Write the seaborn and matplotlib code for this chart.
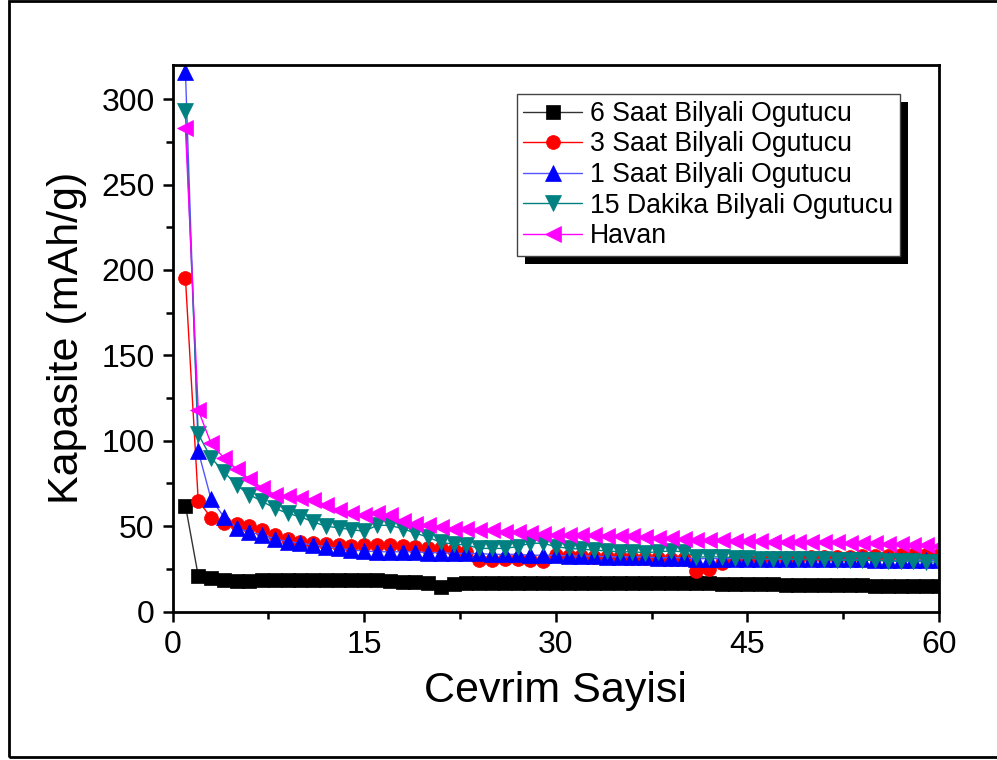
import numpy as np
import pandas as pd
import matplotlib
matplotlib.use("Agg")
import matplotlib.pyplot as plt
from matplotlib.patches import Rectangle
from matplotlib.ticker import MultipleLocator
import seaborn as sns

sns.set_theme(style="white")
plt.rcParams["font.family"] = ["Liberation Sans", "DejaVu Sans"]
plt.rcParams["text.color"] = "black"
plt.rcParams["axes.labelcolor"] = "black"
plt.rcParams["xtick.color"] = "black"
plt.rcParams["ytick.color"] = "black"

cycles = list(range(1, 61))

saat6 = [62, 21, 19.5, 18.5, 18, 18, 18.5, 18.5, 18.5, 18.5,
         18.5, 18.5, 18.5, 18.5, 18.5, 18.5, 18, 17.5, 17.5, 17,
         14.5, 16, 16.5, 16.5, 16.5, 16.5, 16.5, 16.5, 16.5, 16.5,
         17, 17, 17, 17, 17, 17, 17, 17, 17, 16.5,
         16.5, 16.5, 16, 16, 16, 16, 16, 15.5, 15.5, 15.5,
         15.5, 15.5, 15.5, 15.5, 15, 15, 15, 15, 15, 15]

saat3 = [195, 65, 55, 52, 51.5, 50, 48, 45, 42.5, 41,
         40, 39.5, 39, 38.5, 39, 39, 39, 38.5, 38, 37.5,
         37, 36, 35, 30, 30, 30.5, 30.5, 30, 29.5, 33,
         32.5, 32.5, 32, 32, 32, 31.5, 31.5, 31.5, 31, 31,
         24, 25, 28.5, 30.5, 31, 31, 31.5, 31.5, 31.5, 32,
         32, 32, 32, 32.5, 32.5, 32.5, 33, 33, 33, 33]

saat1 = [316, 94, 66, 55.5, 49, 46.5, 45, 42.5, 41, 40,
         39, 38, 37, 36, 35.5, 35, 35, 35, 35, 34.5,
         34.5, 34, 34, 34, 33.5, 33.5, 33.5, 33, 33, 33,
         32.5, 32.5, 32.5, 32, 32, 32, 32, 31.5, 31.5, 31.5,
         31, 31, 31, 31, 31, 31, 30.5, 30.5, 30.5, 30.5,
         30.5, 30.5, 30.5, 30.5, 30, 30, 30, 30, 30, 30]

dakika15 = [293, 104, 90, 82, 74, 68.5, 64.5, 60.5, 57.5, 55.5,
            52.5, 50, 49, 48, 47, 50.5, 50.5, 48.5, 46, 43.5,
            40.5, 39.5, 39, 37, 37, 37, 38, 40, 40, 38,
            37, 36.5, 36, 35.5, 35, 35, 34.5, 35, 35.5, 35,
            32, 32, 32, 31.5, 31.5, 31, 31, 31, 30.5, 30.5,
            30.5, 30, 30, 30, 30, 29.5, 29.5, 29.5, 29, 29]

havan = [283, 118, 98.5, 90, 83.5, 77.5, 72.5, 68.5, 67.5, 66.5,
         65.5, 62.5, 59.5, 57.5, 56.5, 57.5, 56.5, 53, 51.5, 50.5,
         49.5, 48.5, 48.5, 47.5, 47.5, 46.5, 46.5, 46, 45.5, 45,
         45, 45, 45, 44.5, 44.5, 44, 43.5, 43, 43, 42.5,
         42, 42, 42, 41.5, 41.5, 41.5, 41, 41, 41, 40.5,
         40.5, 40.5, 40, 40, 40, 39.5, 39.5, 39, 39, 38.5]

names = ["6 Saat Bilyali Ogutucu", "3 Saat Bilyali Ogutucu",
         "1 Saat Bilyali Ogutucu", "15 Dakika Bilyali Ogutucu", "Havan"]
values = [saat6, saat3, saat1, dakika15, havan]
colors = ["#000000", "#FF0000", "#0000FF", "#008080", "#FF00FF"]
line_colors = ["#333333", "#FF0000", "#5555FF", "#008080", "#FF00FF"]
markers = ["s", "o", "^", "v", "<"]
msizes = [9.5, 10, 11, 11, 11]

df = pd.DataFrame({
    "Cevrim": np.tile(cycles, len(names)),
    "Kapasite": np.concatenate(values),
    "Seri": np.repeat(names, len(cycles)),
})

fig = plt.figure(figsize=(9.97, 7.6), dpi=100)
ax = fig.add_axes([0.1732, 0.1953, 0.7686, 0.7192])

for name, c, lc, m, ms in zip(names, colors, line_colors, markers, msizes):
    sub = df[df["Seri"] == name]
    sns.lineplot(data=sub, x="Cevrim", y="Kapasite", ax=ax, color=lc,
                 marker=m, markersize=ms, markerfacecolor=c,
                 markeredgecolor=c, markeredgewidth=0.5, linewidth=1.0,
                 label=name, sort=False, estimator=None)

ax.set_xlim(0, 60)
ax.set_ylim(0, 320)
ax.xaxis.set_major_locator(MultipleLocator(15))
ax.xaxis.set_minor_locator(MultipleLocator(7.5))
ax.yaxis.set_major_locator(MultipleLocator(50))
ax.yaxis.set_minor_locator(MultipleLocator(25))

for sp in ax.spines.values():
    sp.set_visible(True)
    sp.set_color("black")
    sp.set_linewidth(2.0)

ax.tick_params(axis="both", which="major", direction="out", length=7,
               width=1.8, color="black", labelcolor="black", labelsize=23,
               pad=6, bottom=True, left=True, top=False, right=False)
ax.tick_params(axis="both", which="minor", direction="out", length=5,
               width=1.8, color="black",
               bottom=True, left=True, top=False, right=False)

ax.set_xlabel("Cevrim Sayisi", fontsize=31, labelpad=8, color="black")
ax.set_ylabel("Kapasite (mAh/g)", fontsize=31, labelpad=10, color="black")
ax.grid(False)

leg = ax.legend(loc="upper left",
                bbox_to_anchor=(516.7 / 997, 1 - 94.3 / 760),
                bbox_transform=fig.transFigure,
                fontsize=19.2, frameon=True, fancybox=False, shadow=False,
                borderpad=0.25, labelspacing=0.17, handlelength=2.2,
                handletextpad=0.3, borderaxespad=0.0, labelcolor="black")
frame = leg.get_frame()
frame.set_edgecolor("#444444")
frame.set_linewidth(1.0)
frame.set_facecolor("white")
frame.set_alpha(1.0)
leg.set_zorder(10)

# Drop shadow behind the legend box
fig.canvas.draw()
bb = leg.get_window_extent().transformed(fig.transFigure.inverted())
dx, dy = 8 / 997, 8 / 760
shadow = Rectangle((bb.x0 + dx, bb.y0 - dy), bb.width, bb.height,
                   transform=fig.transFigure, facecolor="black",
                   edgecolor="none", zorder=9)
ax.add_artist(shadow)
shadow.set_clip_on(False)

# Outer frame around the whole figure
border = Rectangle((9 / 997, 3 / 760), 1.2, 1 - 4 / 760,
                   transform=fig.transFigure, facecolor="none",
                   edgecolor="black", linewidth=2.0)
fig.patches.append(border)

fig.savefig("out.png", dpi=100)
